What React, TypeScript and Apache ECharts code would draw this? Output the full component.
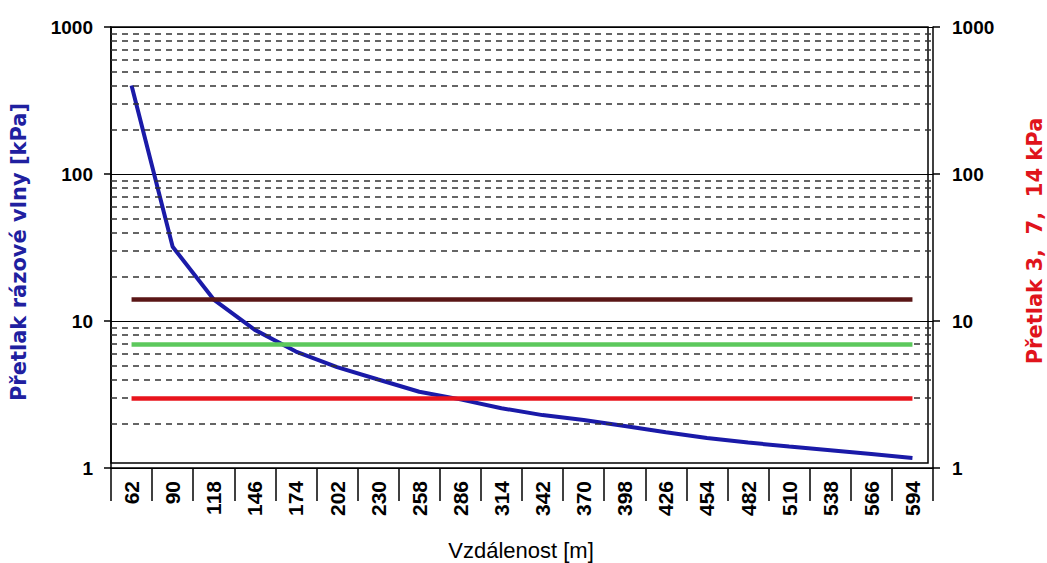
import React, { useEffect, useRef } from "react";
import * as echarts from "echarts";

const categories = ["62", "90", "118", "146", "174", "202", "230", "258", "286", "314", "342", "370", "398", "426", "454", "482", "510", "538", "566", "594"];
const blastPressure = [400, 32, 14, 8.7, 6.2, 4.85, 4.0, 3.3, 2.93, 2.55, 2.29, 2.12, 1.93, 1.75, 1.6, 1.49, 1.4, 1.32, 1.245, 1.17];
const thresholdValues = [14, 7, 3];
const thresholdColors = ["#5a1616", "#5cc85c", "#e8141c"];
const minorGridValues = [2, 3, 4, 5, 6, 7, 8, 9, 20, 30, 40, 50, 60, 70, 80, 90, 200, 300, 400, 500, 600, 700, 800, 900];

const FONT = "'Liberation Sans', Arial, sans-serif";

export default function App() {
  const ref = useRef<HTMLDivElement>(null);
  useEffect(() => {
    document.body.style.margin = "0";
    const chart = echarts.init(ref.current!, null, { renderer: "svg" });
    const first = categories[0];
    const last = categories[categories.length - 1];
    const yAxisCommon = {
      type: "log",
      logBase: 10,
      min: 1,
      max: 1000,
      axisLine: { show: true, lineStyle: { color: "#000", width: 1.5 } },
      axisTick: { show: true, length: 7, lineStyle: { color: "#000", width: 1.5 } },
      axisLabel: {
        color: "#000",
        fontSize: 19,
        fontWeight: "bold",
        fontFamily: FONT,
        formatter: (v: number) => String(Math.round(v)),
      },
    };
    chart.setOption({
      animation: false,
      backgroundColor: "#fff",
      grid: { left: 111, top: 27, width: 822, height: 441, containLabel: false },
      xAxis: {
        type: "category",
        data: categories,
        boundaryGap: true,
        axisLine: { show: true, lineStyle: { color: "#000", width: 1.5 } },
        axisTick: { show: true, length: 33, interval: 0, alignWithLabel: false, lineStyle: { color: "#000", width: 1.5 } },
        axisLabel: { interval: 0, rotate: 90, margin: 13, color: "#000", fontSize: 21, fontWeight: "bold", fontFamily: FONT },
        splitLine: { show: false },
      },
      yAxis: [
        {
          ...yAxisCommon,
          position: "left",
          axisLabel: { ...yAxisCommon.axisLabel, margin: 18 },
          splitLine: { show: true, lineStyle: { color: "#000", width: 1.2 } },
        },
        {
          ...yAxisCommon,
          position: "right",
          axisLabel: { ...yAxisCommon.axisLabel, margin: 19 },
          splitLine: { show: false },
        },
      ],
      graphic: [
        {
          type: "rect",
          shape: { x: 111, y: 27, width: 817, height: 436 },
          style: { fill: "none", stroke: "#000", lineWidth: 1.5 },
          z: 5,
          silent: true,
        },
        {
          type: "text",
          x: 19,
          y: 252,
          rotation: Math.PI / 2,
          style: {
            text: "Přetlak rázové vlny [kPa]",
            align: "center",
            verticalAlign: "middle",
            fill: "#2020a0",
            font: "bold 21px 'DejaVu Sans', sans-serif",
          },
        },
        {
          type: "text",
          x: 1035,
          y: 241,
          rotation: Math.PI / 2,
          style: {
            text: "Přetlak 3,  7,  14 kPa",
            align: "center",
            verticalAlign: "middle",
            fill: "#e0141c",
            font: "bold 21px 'DejaVu Sans', sans-serif",
          },
        },
        {
          type: "text",
          x: 521,
          y: 550,
          style: {
            text: "Vzdálenost [m]",
            align: "center",
            verticalAlign: "middle",
            fill: "#000",
            font: "22px 'Liberation Sans', Arial, sans-serif",
          },
        },
      ],
      series: [
        {
          name: "grid",
          type: "line",
          data: [],
          silent: true,
          z: 1,
          markLine: {
            silent: true,
            symbol: ["none", "none"],
            label: { show: false },
            lineStyle: { color: "#333", width: 1.5, type: [6, 5] },
            data: minorGridValues.map((v) => ({ yAxis: v })),
          },
        },
        ...thresholdValues.map((v, i) => ({
          name: "threshold " + v,
          type: "line",
          data: [],
          z: 3,
          markLine: {
            silent: true,
            symbol: ["none", "none"],
            label: { show: false },
            lineStyle: { color: thresholdColors[i], width: 4.5, type: "solid" },
            data: [[{ coord: [first, v] }, { coord: [last, v] }]],
          },
        })),
        {
          name: "Přetlak",
          type: "line",
          data: blastPressure,
          symbol: "none",
          z: 4,
          lineStyle: { color: "#1a1aa8", width: 4 },
        },
      ],
    });
    return () => chart.dispose();
  }, []);
  return <div ref={ref} style={{ width: 1047, height: 563 }} />;
}
